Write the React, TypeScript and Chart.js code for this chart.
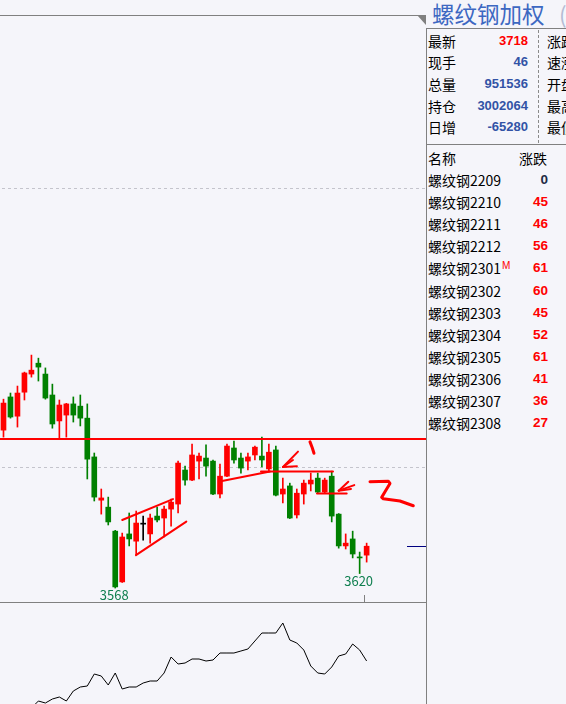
import React, { useEffect, useRef } from "react";
import { Chart, registerables } from "chart.js";

Chart.register(...registerables);

// ---- Data (weighted rebar index candles) ----
const opens = [4134, 4253, 4184, 4270, 4335, 4374, 4335, 4260, 4167, 4188, 4228, 4220, 4177, 4038, 3883, 3858, 3772, 3590, 3762, 3736, 3797, 3762, 3826, 3819, 3851, 3869, 3991, 3955, 4023, 4034, 4023, 3905, 3969, 4070, 4034, 4023, 4045, 4041, 3995, 4063, 3905, 3934, 3830, 3905, 3941, 3962, 3912, 3969, 3833, 3719, 3744, 3679, 3686];
const highs = [4245, 4267, 4292, 4342, 4403, 4392, 4357, 4299, 4242, 4230, 4253, 4260, 4228, 4052, 3923, 3894, 3775, 3765, 3837, 3844, 3826, 3833, 3858, 3862, 3887, 4023, 4005, 4084, 4052, 4081, 4027, 4012, 4084, 4095, 4052, 4052, 4077, 4109, 4084, 4077, 3962, 3944, 3923, 3955, 3980, 3980, 3962, 3987, 3835, 3762, 3772, 3697, 3729];
const lows = [4109, 4177, 4145, 4242, 4324, 4310, 4245, 4141, 4106, 4109, 4163, 4149, 3959, 3880, 3833, 3794, 3568, 3588, 3719, 3686, 3740, 3729, 3805, 3751, 3790, 3837, 3937, 3953, 3959, 3969, 3903, 3891, 3967, 4016, 3980, 3991, 4027, 4002, 3984, 3898, 3873, 3817, 3819, 3869, 3916, 3910, 3908, 3805, 3711, 3708, 3676, 3620, 3661];
const closes = [4231, 4181, 4267, 4339, 4349, 4360, 4249, 4156, 4224, 4228, 4188, 4177, 4030, 3894, 3891, 3805, 3572, 3751, 3744, 3801, 3797, 3819, 3812, 3851, 3876, 4016, 3955, 4045, 4041, 4005, 3905, 3969, 4077, 4027, 3998, 4038, 4073, 4027, 4055, 3901, 3923, 3819, 3908, 3944, 3955, 3912, 3955, 3826, 3719, 3729, 3690, 3676, 3718];
// lower pane indicator line
const indicatorValues = [null, null, null, null, 2, 9, 7, 11, 13, 9, 19, 23, 24, 36, 34, 25, 37, 21, 23, 23, 27, 29, 29, 37, 53, 46, 47, 51, 51, 49, 50, 57, 57, 57, 59, 61, 69, 77, 77, 77, 87, 70, 67, 60, 44, 37, 36, 43, 54, 56, 66, 60, 49];
const emptySlots = 8;
const gridPrices = [4000, 5000];
const markedLows = [16, 51];
const priceMin = 3518;
const priceMax = 5622;
const indMin = 6;
const indMax = 107;

// hand-drawn annotations, in (candle index, price)
const resistancePrice = 4102;
const channelUpper = [[17.0, 3812], [24.27, 3887]];
const channelLower = [[18.97, 3686], [26.18, 3806]];
const risingLine = [[31.29, 3952], [38.16, 3986]];
const flatLine = [[36.87, 3986], [47.18, 3986]];
const arrow1Tip = [40.02, 4002];
const arrow1Tails = [[42.17, 4057], [41.45, 4027], [42.02, 4005]];
const markOne = [[43.89, 4092], [44.2, 4072], [44.46, 4051]];
const flatLine2 = [[44.89, 3907], [49.14, 3907]];
const arrow2Tip = [48.0, 3917];
const arrow2Tails = [[49.37, 3949], [50.23, 3937], [49.76, 3923]];
const markTwo = [[52.48, 3949], [55.1, 3951], [55.34, 3943], [54.63, 3913], [54.15, 3893], [54.39, 3888], [56.77, 3880], [58.68, 3863]];
const priceMarkerStart = 57.78;
const axisTickIndex = 51.6;

// right panel
const panelTitle = "螺纹钢加权";
const infoLabels = ["最新", "现手", "总量", "持仓", "日增"];
const infoValues = ["3718", "46", "951536", "3002064", "-65280"];
const infoRightLabels = ["涨跌", "速涨", "开盘", "最高", "最低"];
const contractNames = ["螺纹钢2209", "螺纹钢2210", "螺纹钢2211", "螺纹钢2212", "螺纹钢2301", "螺纹钢2302", "螺纹钢2303", "螺纹钢2304", "螺纹钢2305", "螺纹钢2306", "螺纹钢2307", "螺纹钢2308"];
const contractChanges = [0, 45, 46, 56, 61, 60, 45, 52, 61, 41, 36, 27];
const mainContract = "螺纹钢2301";

const RED = "#ff0000";
const GREEN = "#008000";
const BG = "#f5f5fa";
const CJK = '"Noto Sans CJK SC", "Noto Sans", sans-serif';
const NUM = '"Liberation Sans", Arial, sans-serif';

const labels = [
  ...opens.map((_, i) => `K${i + 1}`),
  ...Array.from({ length: emptySlots }, (_, i) => `E${i + 1}`),
];
const pad = (arr: any[]) => [...arr, ...Array(labels.length - arr.length).fill(null)];
const candleColors = closes.map((c, i) => (c > opens[i] ? RED : c < opens[i] ? GREEN : "#000000"));

const decorPlugin = {
  id: "decor",
  beforeDatasetsDraw(chart: any) {
    const { ctx, chartArea, scales } = chart;
    ctx.save();
    ctx.strokeStyle = "#c4c4cc";
    ctx.lineWidth = 1;
    ctx.setLineDash([3, 3]);
    gridPrices.forEach((p) => {
      const y = Math.floor(scales.y.getPixelForValue(p)) + 0.5;
      ctx.beginPath();
      ctx.moveTo(chartArea.left + 2, y);
      ctx.lineTo(chartArea.right, y);
      ctx.stroke();
    });
    ctx.restore();
  },
  afterDatasetsDraw(chart: any) {
    const { ctx, chartArea, scales } = chart;
    const X = (i: number) => scales.x.getPixelForValue(i);
    const Y = (p: number) => scales.y.getPixelForValue(p);
    const poly = (pts: number[][], w: number, color = RED) => {
      ctx.strokeStyle = color;
      ctx.lineWidth = w;
      ctx.lineJoin = "round";
      ctx.lineCap = "round";
      ctx.beginPath();
      pts.forEach(([i, p], n) => (n ? ctx.lineTo(X(i), Y(p)) : ctx.moveTo(X(i), Y(p))));
      ctx.stroke();
    };
    ctx.save();
    // resistance line
    const ry = Math.round(Y(resistancePrice));
    ctx.fillStyle = RED;
    ctx.fillRect(chartArea.left, ry - 1, chartArea.right - chartArea.left, 2);
    poly(channelUpper, 2);
    poly(channelLower, 2);
    poly(risingLine, 2);
    poly(flatLine, 2);
    arrow1Tails.forEach((t) => poly([t, arrow1Tip], 2));
    poly(markOne, 3);
    poly(flatLine2, 2);
    arrow2Tails.forEach((t) => poly([t, arrow2Tip], 2));
    poly(markTwo, 3);
    // last price marker
    const ly = Math.floor(Y(closes[closes.length - 1])) + 0.5;
    ctx.strokeStyle = "#000080";
    ctx.lineWidth = 1;
    ctx.lineCap = "butt";
    ctx.beginPath();
    ctx.moveTo(X(priceMarkerStart), ly);
    ctx.lineTo(chartArea.right, ly);
    ctx.stroke();
    // low labels
    ctx.fillStyle = "#0f7f4f";
    ctx.font = `13px ${CJK}`;
    ctx.textAlign = "center";
    ctx.textBaseline = "top";
    markedLows.forEach((i) => {
      ctx.fillText(String(lows[i]), X(i) - 1, Y(lows[i]) + 1);
    });
    // frame
    ctx.strokeStyle = "#808080";
    ctx.lineWidth = 1;
    ctx.beginPath();
    ctx.moveTo(0, Math.round(chartArea.top) + 0.5);
    ctx.lineTo(chartArea.right, Math.round(chartArea.top) + 0.5);
    ctx.moveTo(0, Math.round(chartArea.bottom) + 0.5);
    ctx.lineTo(chartArea.right, Math.round(chartArea.bottom) + 0.5);
    const tx = Math.round(X(axisTickIndex)) + 0.5;
    ctx.moveTo(tx, chartArea.bottom - 7);
    ctx.lineTo(tx, chartArea.bottom);
    ctx.stroke();
    ctx.fillStyle = "#808080";
    ctx.beginPath();
    ctx.moveTo(chartArea.right - 9, chartArea.top);
    ctx.lineTo(chartArea.right, chartArea.top);
    ctx.lineTo(chartArea.right, chartArea.top + 10);
    ctx.closePath();
    ctx.fill();
    ctx.restore();
  },
};

export default function App() {
  const priceRef = useRef<HTMLCanvasElement>(null);
  const indRef = useRef<HTMLCanvasElement>(null);

  useEffect(() => {
    const common = {
      animation: false as const,
      responsive: false,
      devicePixelRatio: 1,
      events: [] as any[],
      plugins: { legend: { display: false }, tooltip: { enabled: false } },
    };
    const c1 = new Chart(priceRef.current!, {
      type: "bar",
      data: {
        labels,
        datasets: [
          {
            data: pad(lows.map((l, i) => [l, highs[i]])),
            backgroundColor: candleColors,
            barThickness: 1,
            grouped: false,
            minBarLength: 1,
          } as any,
          {
            data: pad(opens.map((o, i) => [o, closes[i]])),
            backgroundColor: candleColors,
            barThickness: 5,
            grouped: false,
            minBarLength: 1,
          } as any,
        ],
      },
      options: {
        ...common,
        layout: { padding: { top: 15, bottom: 1, left: 0, right: 0 } },
        scales: {
          x: { type: "category", offset: true, display: false },
          y: { type: "linear", min: priceMin, max: priceMax, display: false },
        },
      },
      plugins: [decorPlugin],
    });
    const c2 = new Chart(indRef.current!, {
      type: "line",
      data: {
        labels,
        datasets: [
          {
            data: pad(indicatorValues),
            borderColor: "#000000",
            borderWidth: 1,
            pointRadius: 0,
            tension: 0,
            fill: false,
          },
        ],
      },
      options: {
        ...common,
        layout: { padding: 0 },
        scales: {
          x: { type: "category", offset: true, display: false },
          y: { type: "linear", min: indMin, max: indMax, display: false },
        },
      },
    });
    return () => {
      c1.destroy();
      c2.destroy();
    };
  }, []);

  const abs = (o: any) => ({ position: "absolute" as const, whiteSpace: "nowrap" as const, ...o });
  const infoCenters = [41, 62, 84, 106, 127];

  return (
    <div style={{ position: "fixed", left: 0, top: 0, width: 566, height: 704, overflow: "hidden", background: BG }}>
      <canvas ref={priceRef} width={426} height={603} style={abs({ left: 0, top: 0 })} />
      <canvas ref={indRef} width={426} height={101} style={abs({ left: 0, top: 603 })} />
      {/* panel borders */}
      <div style={abs({ left: 426, top: 28, width: 1, height: 676, background: "#808080" })} />
      <div style={abs({ left: 426, top: 28, width: 140, height: 1, background: "#808080" })} />
      <div style={abs({ left: 427, top: 144, width: 139, height: 1, background: "#808080" })} />
      <div style={abs({ left: 538, top: 30, height: 113, borderLeft: "1px dashed #8a8a8a" })} />
      {/* title */}
      <div style={abs({ left: 432, top: 0, fontSize: 22.5, lineHeight: "27px", color: "#3d68c2", fontFamily: CJK })}>{panelTitle}</div>
      <div style={abs({ left: 559, top: 0, fontSize: 22.5, lineHeight: "27px", color: "#b4bcd4", fontFamily: CJK })}>(</div>
      {/* info table */}
      {infoLabels.map((l, i) => (
        <React.Fragment key={l}>
          <div style={abs({ left: 428, top: infoCenters[i] - 10, lineHeight: "20px", fontSize: 14, color: "#000", fontFamily: CJK })}>{l}</div>
          <div style={abs({ left: 440, width: 88, textAlign: "right", top: infoCenters[i] - 10, lineHeight: "20px", fontSize: 13, fontWeight: "bold", color: i === 0 ? RED : "#3253a6", fontFamily: NUM })}>{infoValues[i]}</div>
          <div style={abs({ left: 547, top: infoCenters[i] - 10, lineHeight: "20px", fontSize: 14, color: "#000", fontFamily: CJK })}>{infoRightLabels[i]}</div>
        </React.Fragment>
      ))}
      {/* contract list */}
      <div style={abs({ left: 428, top: 148, lineHeight: "20px", fontSize: 14, color: "#000", fontFamily: CJK })}>名称</div>
      <div style={abs({ left: 519, top: 148, lineHeight: "20px", fontSize: 14, color: "#000", fontFamily: CJK })}>涨跌</div>
      {contractNames.map((n, i) => {
        const top = Math.round(170 + i * 22.1);
        return (
          <React.Fragment key={n}>
            <div style={abs({ left: 428, top, lineHeight: "20px", fontSize: 14, color: "#000", fontFamily: CJK })}>{n}</div>
            {n === mainContract && (
              <div style={abs({ left: 502, top: top + 2, lineHeight: "12px", fontSize: 10, color: RED, fontFamily: NUM })}>M</div>
            )}
            <div style={abs({ left: 500, width: 48, textAlign: "right", top, lineHeight: "20px", fontSize: 13.5, fontWeight: "bold", color: contractChanges[i] > 0 ? RED : "#1f2a44", fontFamily: NUM })}>
              {contractChanges[i]}
            </div>
          </React.Fragment>
        );
      })}
    </div>
  );
}
